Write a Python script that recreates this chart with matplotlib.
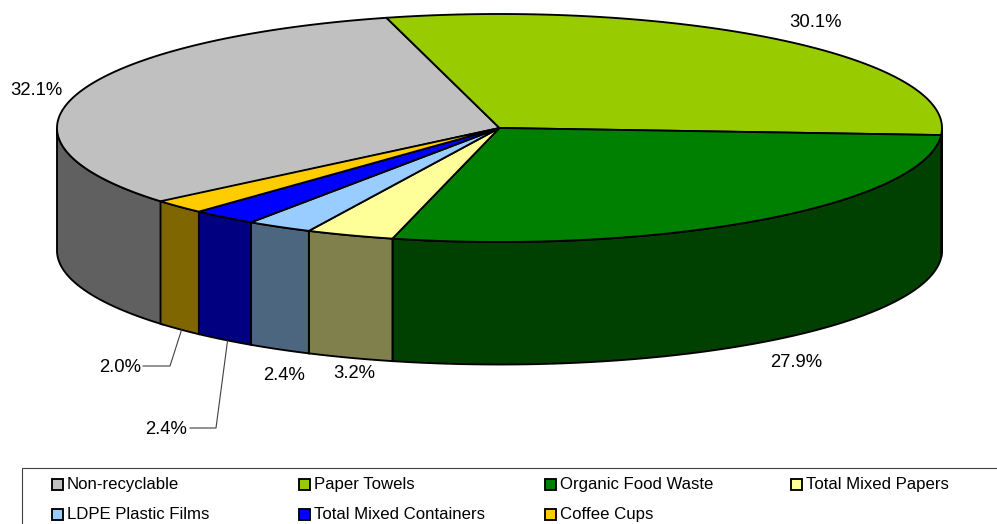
import numpy as np
import matplotlib
matplotlib.use('Agg')
import matplotlib.pyplot as plt
from matplotlib.patches import Polygon, Rectangle

plt.rcParams['font.family'] = ['Liberation Sans', 'DejaVu Sans']

categories = ['Non-recyclable', 'Paper Towels', 'Organic Food Waste', 'Total Mixed Papers',
              'LDPE Plastic Films', 'Total Mixed Containers', 'Coffee Cups']
values = [32.1, 30.1, 27.9, 3.2, 2.4, 2.4, 2.0]
top_colors = ['#C0C0C0', '#99CC00', '#008000', '#FFFF99', '#99CCFF', '#0000FF', '#FFCC00']
side_colors = ['#606060', '#4D6600', '#004000', '#80804D', '#4D6680', '#000080', '#806600']

# ellipse geometry in pixels
cx, cy = 499.5, 128
rx, ry = 442.5, 114
depth = 122.5
first_angle = 220.36

fig = plt.figure(figsize=(9.97, 5.24), dpi=100)
ax = fig.add_axes([0, 0, 1, 1])
ax.set_xlim(0, 997)
ax.set_ylim(524, 0)
ax.axis('off')


def arc(a0, a1, dy=0):
    t = np.radians(np.linspace(a0, a1, 200))
    return np.column_stack([cx + rx * np.cos(t), cy - ry * np.sin(t) + dy])


# slice angles, clockwise from the first one
edges = first_angle - np.cumsum([0] + values) * 3.6

# side walls: only the front half of the rim can be seen
for i in range(len(values)):
    for front_hi, front_lo in [(360, 180), (0, -180)]:
        a0 = min(edges[i], front_hi)
        a1 = max(edges[i + 1], front_lo)
        if a0 <= a1:
            continue
        pts = np.vstack([arc(a0, a1), arc(a1, a0, depth)])
        ax.add_patch(Polygon(pts, closed=True, fc=side_colors[i], ec='black', lw=1.35))

# top faces
for i in range(len(values)):
    pts = np.vstack([[cx, cy], arc(edges[i], edges[i + 1])])
    ax.add_patch(Polygon(pts, closed=True, fc=top_colors[i], ec='black', lw=1.35))

# percent labels
label_pos = [(36, 90.5), (815, 22.5), (796, 362.5), (354, 373.5), (284, 375.5), (166, 429.5), (120, 367.5)]
for v, (x, y) in zip(values, label_pos):
    ax.text(x, y, f'{v:.1f}%', fontsize=13.3, ha='center', va='center', color='black')

# leader lines
ax.plot([143, 170, 181.5], [366, 366, 330], color='#404040', lw=0.8)
ax.plot([190, 216, 227.5], [428, 428, 341], color='#404040', lw=0.8)

# legend box runs off the right and bottom of the picture
ax.add_patch(Rectangle((22, 468), 990, 70, fc='white', ec='#404040', lw=0.8))
col_x = [52, 299, 545, 791]
row_y = [484, 514]
for i, name in enumerate(categories):
    x = col_x[i % 4]
    y = row_y[i // 4]
    ax.add_patch(Rectangle((x, y - 5), 11, 11, fc=top_colors[i], ec='black', lw=1.35))
    ax.text(x + 15, y + 0.5, name, fontsize=12.1, ha='left', va='center', color='black')

fig.savefig('out.png', dpi=100)
